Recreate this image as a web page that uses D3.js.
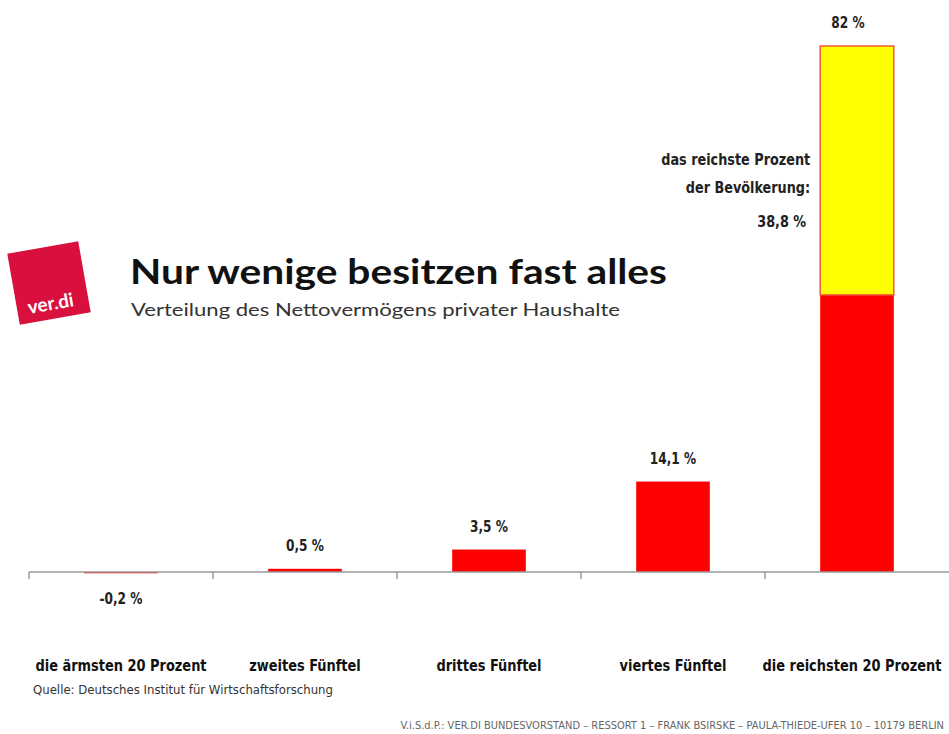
<!DOCTYPE html>
<html>
  <head>
    <meta charset="utf-8">
    <title>Nur wenige besitzen fast alles</title>
    <style>
      body { margin: 0; background: #fff; }
      .narrow { font-family: "Liberation Sans Narrow", "DejaVu Sans Condensed", "Roboto", sans-serif; }
    </style>
  </head>
  <body>
    <svg id="chart" width="949" height="734"></svg>
    <script src="https://d3js.org/d3.v7.min.js"></script>
    <script>
      categories = ['die ärmsten 20 Prozent', 'zweites Fünftel', 'drittes Fünftel', 'viertes Fünftel', 'die reichsten 20 Prozent']
      values = [-0.2, 0.5, 3.5, 14.1, 82]
      valueLabels = ['-0,2 %', '0,5 %', '3,5 %', '14,1 %', '82 %']
      // share of the richest one percent, sits inside the last bar
      topPercent = 38.8
      topPercentLabel = '38,8 %'

      width = 949
      height = 734
      margin = {left: 29, right: 0}
      axisY = 572

      xScale = d3.scaleBand()
        .domain(categories)
        .range([margin.left, width - margin.right])
        .paddingInner(0.6)
        .paddingOuter(0.3)
      // plain bands for the tick marks between the categories
      xTicks = d3.scaleBand()
        .domain(categories)
        .range([margin.left, width - margin.right])
      yScale = d3.scaleLinear()
        .domain([0, 82])
        .range([axisY, 46])

      const svg = d3.select('#chart')

      // squeeze a text a bit, the original uses a condensed face
      function condense(sel, f) {
        sel.each(function () {
          const w = this.getComputedTextLength()
          d3.select(this).attr('textLength', w * f).attr('lengthAdjust', 'spacingAndGlyphs')
        })
      }

      // logo
      const logo = svg.append('g').attr('transform', 'translate(49,283) rotate(-10)')
      logo.append('rect')
        .attr('x', -36).attr('y', -36).attr('width', 72).attr('height', 72)
        .style('fill', '#d90f3d')
      logo.append('text')
        .attr('x', -2).attr('y', 27)
        .attr('text-anchor', 'middle')
        .style('font-family', 'Lato, "Open Sans", sans-serif')
        .style('font-weight', 700)
        .style('font-size', '19px')
        .style('fill', '#fff')
        .text('ver.di')

      // title block
      svg.append('text')
        .attr('x', 130).attr('y', 284)
        .attr('textLength', 537).attr('lengthAdjust', 'spacingAndGlyphs')
        .style('font-family', 'Lato, "Open Sans", sans-serif')
        .style('font-weight', 700)
        .style('font-size', '35px')
        .style('fill', '#111')
        .text('Nur wenige besitzen fast alles')
      svg.append('text')
        .attr('x', 131).attr('y', 316)
        .attr('textLength', 489).attr('lengthAdjust', 'spacingAndGlyphs')
        .style('font-family', 'Lato, "Open Sans", sans-serif')
        .style('font-size', '18px')
        .style('fill', '#333')
        .text('Verteilung des Nettovermögens privater Haushalte')

      // bars
      svg.append('g')
        .selectAll('rect')
        .data(values)
        .join('rect')
          .attr('x', (d, i) => xScale(categories[i]))
          .attr('y', d => yScale(Math.max(d, 0)))
          .attr('width', xScale.bandwidth())
          .attr('height', d => Math.abs(yScale(0) - yScale(d)))
          .style('fill', '#ff0000')

      // yellow part of the last bar
      const last = categories[categories.length - 1]
      const lastValue = values[values.length - 1]
      svg.append('rect')
        .attr('x', xScale(last))
        .attr('y', yScale(lastValue))
        .attr('width', xScale.bandwidth())
        .attr('height', yScale(lastValue - topPercent) - yScale(lastValue))
        .style('fill', '#ffff00')
        .style('stroke', '#f05a3c')
        .style('stroke-width', 1.5)

      // axis
      const axis = svg.append('g').attr('class', 'x-axis')
      axis.append('line')
        .attr('x1', margin.left).attr('x2', width)
        .attr('y1', axisY).attr('y2', axisY)
        .style('stroke', '#9a9a9a').style('stroke-width', 1.5)
      axis.selectAll('line.tick')
        .data(categories)
        .join('line')
          .attr('class', 'tick')
          .attr('x1', d => xTicks(d)).attr('x2', d => xTicks(d))
          .attr('y1', axisY).attr('y2', axisY + 7)
          .style('stroke', '#9a9a9a').style('stroke-width', 1.5)

      // value labels
      svg.append('g')
        .selectAll('text')
        .data(values)
        .join('text')
          .attr('class', 'narrow')
          .attr('x', (d, i) => xScale(categories[i]) + xScale.bandwidth() / 2 - (i === 4 ? 9 : 0))
          .attr('y', d => d < 0 ? axisY + 32 : yScale(d) - 18)
          .attr('text-anchor', 'middle')
          .style('font-weight', 700)
          .style('font-size', '15px')
          .style('fill', '#222')
          .text((d, i) => valueLabels[i])
          .call(condense, 0.9)

      // annotation for the richest percent
      const noteX = xScale(last) - 10
      const note = svg.append('g').attr('class', 'narrow')
        .attr('text-anchor', 'end')
        .style('font-weight', 700)
        .style('font-size', '15px')
        .style('fill', '#222')
      note.append('text').attr('x', noteX).attr('y', 165).text('das reichste Prozent')
      note.append('text').attr('x', noteX).attr('y', 193).text('der Bevölkerung:')
      note.append('text').attr('x', noteX - 4).attr('y', 227).text(topPercentLabel)
      note.selectAll('text').call(condense, 0.95)

      // category labels
      svg.append('g')
        .selectAll('text')
        .data(categories)
        .join('text')
          .attr('class', 'narrow')
          .attr('x', d => xScale(d) + xScale.bandwidth() / 2 - (d === last ? 5 : 0))
          .attr('y', 671)
          .attr('text-anchor', 'middle')
          .style('font-weight', 700)
          .style('font-size', '15px')
          .style('fill', '#111')
          .text(d => d)
          .call(condense, 0.96)

      svg.append('text')
        .attr('class', 'narrow')
        .attr('x', 33).attr('y', 694)
        .attr('textLength', 300).attr('lengthAdjust', 'spacingAndGlyphs')
        .style('font-size', '12px')
        .style('fill', '#333')
        .text('Quelle: Deutsches Institut für Wirtschaftsforschung')

      svg.append('text')
        .attr('class', 'narrow')
        .attr('x', 944).attr('y', 729)
        .attr('text-anchor', 'end')
        .style('font-size', '11px')
        .style('fill', '#666')
        .text('V.i.S.d.P.: VER.DI BUNDESVORSTAND – RESSORT 1 – FRANK BSIRSKE – PAULA-THIEDE-UFER 10 – 10179 BERLIN')
    </script>
  </body>
</html>
